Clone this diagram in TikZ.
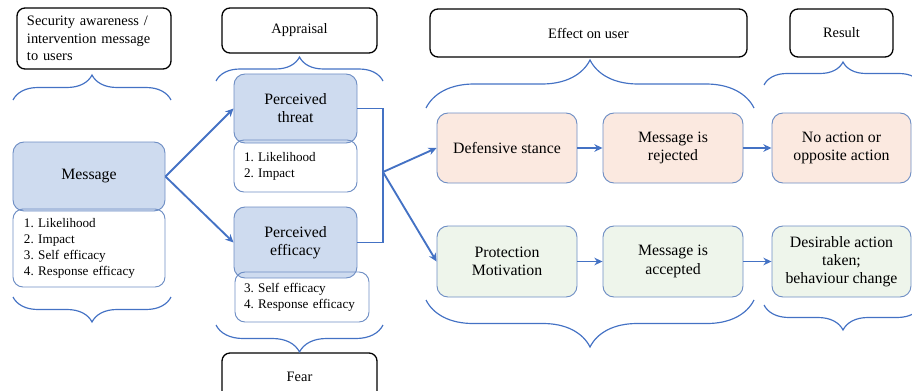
\documentclass[tikz,border=0pt]{standalone}
\usepackage{fontspec}
\setmainfont{Liberation Serif}
\usepackage{xcolor}
\usepackage{tikz}
\usetikzlibrary{arrows.meta,positioning,decorations.pathreplacing,calc}
\definecolor{PMBlue} {RGB}{68, 114,196}
\definecolor{PMEdge} {RGB}{110,142,196}
\definecolor{PMFill} {RGB}{206,219,239}
\definecolor{PMPeach}{RGB}{251,233,224}
\definecolor{PMGreen}{RGB}{238,245,235}
\frenchspacing

\begin{document}
\begin{tikzpicture}[
  x=0.3mm, y=-0.3mm,
  head/.style   = {draw, rounded corners=2.4mm, line width=1.1pt,
                   align=center, font=\fontsize{12.3}{15}\selectfont},
  core/.style   = {draw=PMEdge, fill=PMFill, rounded corners=3.3mm,
                   line width=0.8pt, minimum width=36.9mm,
                   minimum height=20.7mm, align=center,
                   font=\fontsize{13.5}{15.5}\selectfont},
  stage/.style  = {core, minimum width=42mm, minimum height=21mm},
  factor/.style = {draw=PMEdge, rounded corners=3mm, line width=0.8pt,
                   align=left, font=\fontsize{11.2}{13.6}\selectfont},
  arr/.style    = {-{Stealth[length=7pt,width=6.5pt]}, line width=1.6pt, PMBlue},
  link/.style   = {line width=1.6pt, PMBlue},
  brc/.style    = {decorate, decoration={brace, amplitude=#1},
                   line width=1pt, PMBlue}
]
\clip (0,0) rectangle (912,390);
% headings
\node[head, minimum width=46.2mm, minimum height=18.3mm,
      text width=40.2mm, align=left] (aware) at (94,38.5)
  {Security awareness /\\intervention message\\to users};
\node[head, minimum width=46.5mm, minimum height=13.5mm] (appr) at (299.5,30.5) {Appraisal};
\node[head, minimum width=95.1mm, minimum height=14.4mm] (effect) at (588.5,33) {Effect on user};
\node[head, minimum width=30.9mm, minimum height=14.4mm] (result) at (841.5,33) {Result};
\node[head, minimum width=46.5mm, minimum height=14.1mm] (fear) at (299.5,376.5) {Fear};
% message and appraisal
\node[core, minimum width=45.6mm] (msg) at (89,176.5) {Message};
\node[factor, minimum width=45.6mm, minimum height=23.4mm, text width=39mm] (msglist) at (89,248)
  {1. Likelihood\\2. Impact\\3. Self efficacy\\4. Response efficacy};
\node[core] (threat) at (295.5,108.5) {Perceived\\threat};
\node[factor, minimum width=36.9mm, minimum height=15.6mm, text width=30.9mm] (threatlist) at (295.5,166)
  {1. Likelihood\\2. Impact};
\node[core, minimum height=21.3mm] (effic) at (295.5,242.5) {Perceived\\efficacy};
\node[factor, minimum width=40.2mm, minimum height=15mm, text width=34.8mm] (efficlist) at (302,297)
  {3. Self efficacy\\4. Response efficacy};
% outcomes
\node[stage, fill=PMPeach] (def) at (507,148) {Defensive stance};
\node[stage, fill=PMPeach] (rej) at (673,148) {Message is\\rejected};
\node[stage, fill=PMPeach, minimum width=41.7mm] (noact) at (841.5,148) {No action or\\opposite action};
\node[stage, fill=PMGreen, minimum height=21.3mm] (prot) at (507,261.5) {Protection\\Motivation};
\node[stage, fill=PMGreen, minimum height=21.3mm] (acc) at (673,261.5) {Message is\\accepted};
\node[stage, fill=PMGreen, minimum height=21.3mm, minimum width=41.7mm] (desir) at (841.5,261.5)
  {Desirable action\\taken;\\behaviour change};
% connectors
\draw[arr] (msg.east) -- (threat.west);
\draw[arr] (msg.east) -- (effic.west);
\coordinate (join) at (383,172);
\draw[link] (threat.east) -| (join |- effic.east) -- (effic.east);
\draw[arr] (join) -- (def.west);
\draw[arr] (join) -- (prot.west);
\draw[arr] (def) -- (rej);
\draw[arr] (rej) -- (noact);
\draw[arr] (prot) -- (acc);
\draw[arr] (acc) -- (desir);
% braces
\draw[brc=7.5mm]  (13,100)  -- (171,100);
\draw[brc=7.5mm]  (171,297) -- (13,297);
\draw[brc=7.2mm]  (216,81)  -- (383,81);
\draw[brc=8.1mm]  (383,325) -- (216,325);
\draw[brc=14.4mm] (426,108) -- (754,108);
\draw[brc=14.1mm] (754,300) -- (426,300);
\draw[brc=6.9mm]  (764,85)  -- (922,85);
\draw[brc=7.5mm]  (922,305) -- (764,305);
\end{tikzpicture}
\end{document}
